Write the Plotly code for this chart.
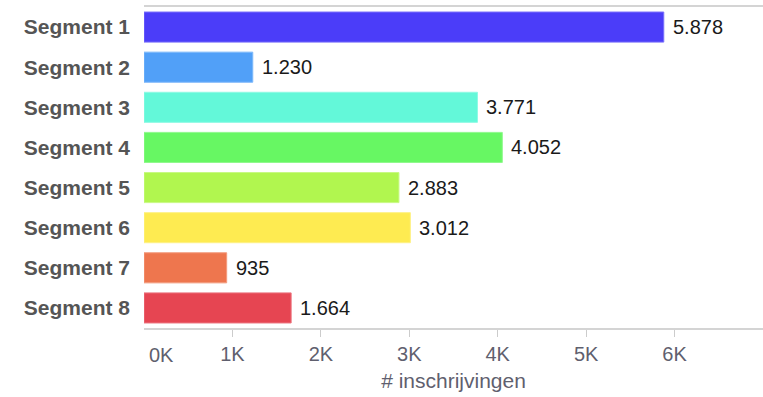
import plotly.graph_objects as go

# Registrations per segment
segments = ["Segment 1", "Segment 2", "Segment 3", "Segment 4",
            "Segment 5", "Segment 6", "Segment 7", "Segment 8"]
registrations = [5878, 1230, 3771, 4052, 2883, 3012, 935, 1664]
bar_colors = ["#4B3DF9", "#51A0F8", "#63F8D9", "#67F763",
              "#B1F64F", "#FEEB51", "#EE764E", "#E64552"]
edge_colors = ["#7A70FB", "#7DB8FA", "#8EFAE4", "#8FF98C",
               "#C8F984", "#FEF185", "#F39B7E", "#EC7680"]
tick_values = [0, 1000, 2000, 3000, 4000, 5000, 6000]
tick_labels = ["0K", "1K", "2K", "3K", "4K", "5K", "6K"]
x_title = "# inschrijvingen"

FONT = "Liberation Sans, Arial, sans-serif"
AXIS_GREY = "#5f5f6e"


def fmt_nl(v):
    # Dutch thousands separator
    return f"{v:,}".replace(",", ".")


fig = go.Figure(
    go.Bar(
        x=registrations,
        y=segments,
        orientation="h",
        marker=dict(color=bar_colors, line=dict(color=edge_colors, width=1)),
        hoverinfo="skip",
    )
)

# value labels just past the bar ends
for seg, val in zip(segments, registrations):
    fig.add_annotation(
        x=val, y=seg, text=fmt_nl(val), showarrow=False,
        xanchor="left", xshift=7,
        font=dict(family=FONT, size=20, color="#1a1a1a"),
    )

# first tick label sits right of its tick so it stays clear of the axis corner
fig.add_annotation(
    x=tick_values[0], y=0, yref="paper", text=tick_labels[0], showarrow=False,
    xanchor="center", yanchor="top", xshift=17, yshift=-14,
    font=dict(family=FONT, size=20, color=AXIS_GREY),
)

fig.update_layout(
    width=763, height=397,
    margin=dict(l=144, r=0, t=7, b=69),
    paper_bgcolor="white", plot_bgcolor="white",
    showlegend=False,
    bargap=0.25,
    xaxis=dict(
        range=[0, 7000],
        tickvals=tick_values[1:], ticktext=tick_labels[1:],
        ticks="outside", ticklen=7, tickcolor="#cccccc", tickwidth=1,
        showline=True, linecolor="#d4d4d4", linewidth=1.5, mirror=True,
        showgrid=False, zeroline=False,
        tickfont=dict(family=FONT, size=20, color=AXIS_GREY),
        title=dict(text=x_title, standoff=10,
                   font=dict(family=FONT, size=21, color=AXIS_GREY)),
        fixedrange=True,
    ),
    yaxis=dict(
        categoryorder="array", categoryarray=segments,
        autorange="reversed",
        showline=False, showgrid=False, zeroline=False,
        ticks="", ticklabelstandoff=13,
        tickfont=dict(family=FONT, size=21, color="#555555", weight="bold"),
        fixedrange=True,
    ),
)

fig.write_html("out.html")
